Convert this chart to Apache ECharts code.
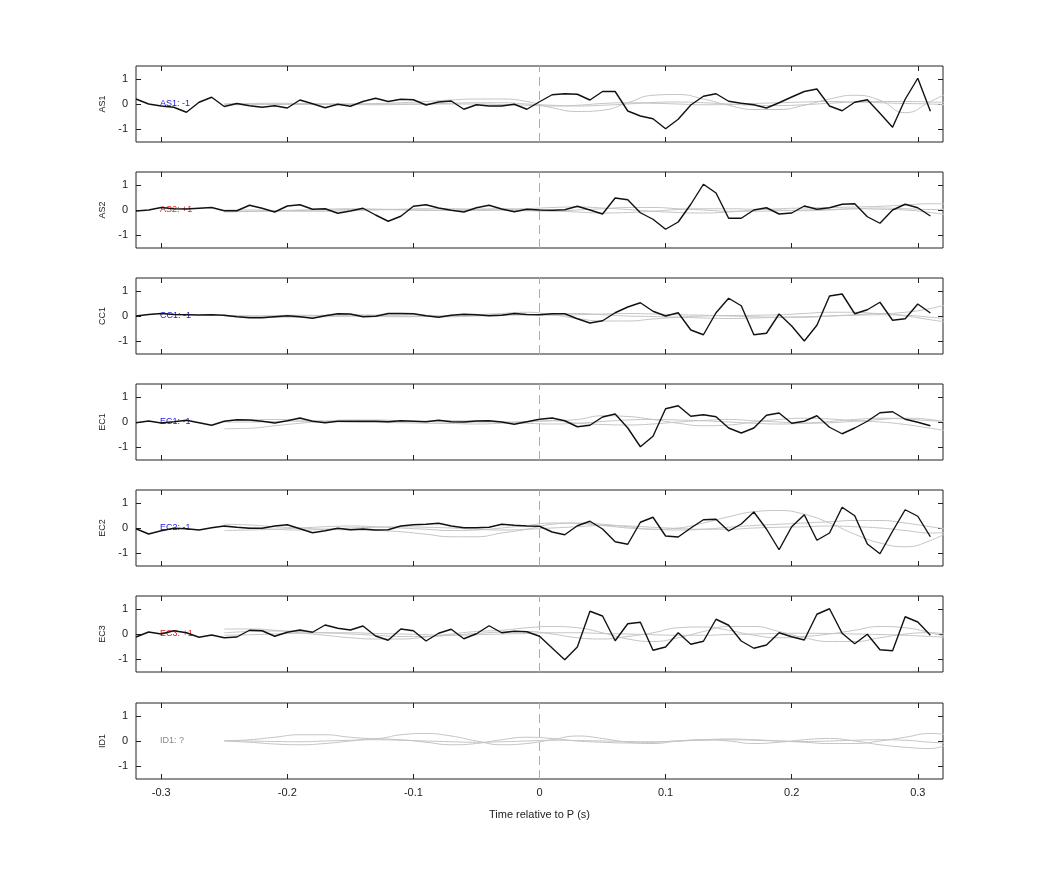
<!DOCTYPE html>
<html>
<head>
<meta charset="utf-8">
<script src="https://cdn.jsdelivr.net/npm/echarts@6/dist/echarts.min.js"></script>
<style>html,body{margin:0;background:#fff}#chart{width:1042px;height:875px}</style>
</head>
<body>
<div id="chart"></div>
<script>
// station names, polarity text and colour of the label
var stations = ["AS1", "AS2", "CC1", "EC1", "EC2", "EC3", "ID1"];
var polarity = ["AS1: -1", "AS2: +1", "CC1: -1", "EC1: -1", "EC2: -1", "EC3: +1", "ID1: ?"];
var polColor = ["#1a1adb", "#e02020", "#1a1adb", "#1a1adb", "#1a1adb", "#e02020", "#888888"];

// black traces, sampled every 0.01 s starting at -0.32 s
var t0 = -0.32, dt = 0.01;
var as1 = [0.2, 0, -0.08, -0.13, -0.33, 0.07, 0.27, -0.1, 0.02, -0.07, -0.13, -0.07, -0.16, 0.16, 0.01, -0.15,
  -0.01, -0.09, 0.1, 0.23, 0.1, 0.19, 0.17, -0.04, 0.08, 0.12, -0.21, -0.03, -0.08, -0.08, -0.01, -0.21,
  0.09, 0.37, 0.41, 0.39, 0.16, 0.5, 0.5, -0.28, -0.48, -0.59, -0.99, -0.61, -0.04, 0.31, 0.41, 0.11,
  0.03, -0.03, -0.16, 0.05, 0.28, 0.5, 0.6, -0.08, -0.27, 0.07, 0.17, -0.37, -0.93, 0.19, 1.03, -0.29];
var as2 = [-0.04, 0, 0.1, 0.05, 0.04, 0.07, 0.1, -0.03, -0.03, 0.19, 0.07, -0.08, 0.16, 0.21, 0.03, 0.05,
  -0.13, -0.04, 0.07, -0.2, -0.45, -0.25, 0.15, 0.21, 0.08, -0.01, -0.08, 0.09, 0.19, 0.04, -0.07, 0.03,
  0, -0.01, 0.01, 0.15, 0, -0.16, 0.48, 0.41, -0.11, -0.37, -0.77, -0.48, 0.23, 1.03, 0.68, -0.33,
  -0.33, 0, 0.09, -0.16, -0.12, 0.16, 0.03, 0.09, 0.23, 0.25, -0.27, -0.53, 0, 0.23, 0.09, -0.24];
var cc1 = [0, 0.06, 0.1, 0.06, 0.05, 0.04, 0.05, 0.03, -0.03, -0.07, -0.07, -0.03, 0.01, -0.03, -0.09, 0.01,
  0.09, 0.08, -0.03, -0.01, 0.1, 0.1, 0.09, 0.01, -0.05, 0.03, 0.07, 0.05, 0.01, 0.03, 0.1, 0.06,
  0.05, 0.09, 0.09, -0.11, -0.28, -0.19, 0.13, 0.36, 0.53, 0.19, 0, 0.13, -0.56, -0.75, 0.13, 0.71,
  0.41, -0.75, -0.69, 0.08, -0.4, -1.0, -0.37, 0.8, 0.88, 0.09, 0.25, 0.55, -0.17, -0.11, 0.48, 0.12];
var ec1 = [-0.03, 0.04, -0.04, 0.01, 0.07, -0.03, -0.13, 0.03, 0.09, 0.08, 0.03, -0.04, 0.05, 0.16, 0.03, -0.03,
  0.03, 0.03, 0.03, 0.03, 0.01, 0.05, 0.03, 0.01, 0.07, 0.01, 0, 0.04, 0.05, 0, -0.09, 0.01,
  0.11, 0.16, 0.05, -0.19, -0.13, 0.2, 0.32, -0.24, -0.99, -0.57, 0.53, 0.65, 0.23, 0.29, 0.21, -0.24,
  -0.44, -0.24, 0.27, 0.36, -0.05, 0.03, 0.25, -0.21, -0.47, -0.24, 0.03, 0.37, 0.41, 0.11, -0.01, -0.15];
var ec2 = [-0.03, -0.24, -0.11, -0.01, -0.03, -0.08, 0.01, 0.08, 0.03, -0.01, -0.01, 0.08, 0.13, -0.03, -0.19, -0.11,
  -0.01, -0.07, -0.04, -0.08, -0.07, 0.08, 0.13, 0.15, 0.19, 0.08, 0.01, 0.01, 0.03, 0.15, 0.11, 0.08,
  0.07, -0.16, -0.27, 0.09, 0.27, -0.04, -0.55, -0.65, 0.23, 0.43, -0.32, -0.36, 0, 0.33, 0.35, -0.12,
  0.16, 0.64, -0.04, -0.87, 0.05, 0.53, -0.49, -0.2, 0.83, 0.49, -0.64, -1.03, -0.13, 0.73, 0.47, -0.35];
var ec3 = [-0.12, 0.08, 0, 0.13, 0.05, -0.13, -0.04, -0.15, -0.12, 0.15, 0.13, -0.09, 0.07, 0.16, 0.07, 0.36,
  0.23, 0.16, 0.32, -0.08, -0.25, 0.2, 0.13, -0.28, 0.03, 0.19, -0.19, 0.01, 0.33, 0.05, 0.11, 0.09,
  -0.09, -0.56, -1.03, -0.52, 0.91, 0.72, -0.27, 0.41, 0.47, -0.65, -0.52, 0.05, -0.41, -0.29, 0.59, 0.35,
  -0.28, -0.57, -0.44, 0.05, -0.11, -0.24, 0.79, 1.01, 0.03, -0.39, -0.01, -0.63, -0.67, 0.69, 0.48, -0.05];
var blackTraces = [as1, as2, cc1, ec1, ec2, ec3, null];

// grey traces, sampled every 0.02 s starting at -0.25 s
var g0 = -0.25, gdt = 0.02;
var greyTraces = [
  [[0, 0, 0, 0, 0, 0, 0.02, 0.05, 0.1, 0.16, 0.2, 0.2, 0.1, -0.15, -0.3, -0.25, 0.05, 0.35, 0.38, 0.2, -0.05, -0.22, -0.22, -0.05, 0.2, 0.35, 0.15, -0.35, 0.1, 0.6],
   [0, 0.02, 0.03, 0.02, 0, -0.02, -0.03, -0.02, 0, 0.03, 0.05, 0.05, 0, -0.05, -0.08, -0.05, 0, 0.06, 0.08, 0.05, 0, -0.05, -0.06, -0.03, 0.03, 0.08, 0.1, 0.1, 0.08, 0.05],
   [-0.03, -0.03, -0.02, -0.02, -0.01, 0, 0, 0, 0, 0, 0, -0.02, -0.05, -0.08, -0.05, 0.02, 0.05, 0.03, 0, -0.03, -0.02, 0.02, 0.05, 0.08, 0.1, 0.08, 0.05, 0.02, 0, -0.05]],
  [[-0.08, -0.06, -0.04, -0.02, 0, 0.02, 0.03, 0.02, 0, -0.02, -0.02, 0, 0.05, 0.1, 0.12, 0.08, 0.02, -0.05, -0.1, -0.12, -0.08, 0, 0.05, 0.08, 0.1, 0.12, 0.15, 0.2, 0.25, 0.25],
   [0, 0, -0.03, -0.05, -0.05, -0.03, 0, 0.03, 0.05, 0.05, 0.03, 0, -0.03, -0.05, 0, 0.05, 0.1, 0.1, 0.05, 0, -0.05, -0.05, -0.03, 0, 0.02, 0.05, 0.03, 0, -0.1, -0.25],
   [-0.05, -0.05, -0.03, 0, 0.03, 0.05, 0.03, 0, -0.02, 0, 0.03, 0.05, 0.03, -0.03, -0.08, -0.12, -0.1, -0.05, 0.02, 0.05, 0.05, 0.03, 0, -0.03, 0, 0.05, 0.08, 0.05, 0.02, 0.05]],
  [[0, -0.03, -0.05, -0.05, -0.03, 0, 0.03, 0.05, 0.03, 0, 0.05, 0.1, 0.15, 0.05, -0.1, -0.2, -0.2, -0.12, -0.05, 0, 0.02, 0.03, 0.05, 0.1, 0.15, 0.15, 0.1, 0.15, 0.3, 0.55],
   [0, 0, 0.02, 0.03, 0.02, 0, -0.02, -0.03, -0.02, 0, 0.02, 0.05, 0.05, 0.03, 0.05, 0.08, 0.1, 0.08, 0.05, 0.03, 0, -0.03, -0.05, -0.05, 0, 0.05, 0.1, 0, -0.15, -0.3],
   [0.02, 0, -0.02, 0, 0.03, 0.05, 0.03, 0, -0.02, -0.03, 0, 0.03, 0.05, 0.08, 0.1, 0.05, 0, -0.02, -0.05, -0.08, -0.1, -0.08, -0.05, -0.03, 0, 0.03, 0.05, 0.03, -0.05, -0.15]],
  [[-0.27, -0.25, -0.15, -0.05, 0.03, 0.08, 0.08, 0.05, 0.02, 0, 0, 0, 0.02, 0.05, 0.1, 0.25, 0.22, 0.1, -0.05, -0.15, -0.12, 0, 0.1, 0.15, 0.12, 0.05, 0, -0.1, -0.25, -0.4],
   [0.05, 0.08, 0.1, 0.08, 0.04, 0, -0.02, 0, 0.03, 0.05, 0.04, 0, -0.05, -0.08, -0.05, 0.02, 0.08, 0.1, 0.08, 0.05, 0, -0.05, -0.08, -0.05, 0.02, 0.1, 0.15, 0.12, 0.05, 0],
   [0, 0, 0.02, 0.03, 0.02, 0, -0.02, -0.03, -0.05, -0.06, -0.08, -0.05, 0, 0.05, -0.05, -0.1, -0.12, -0.08, 0, 0.06, 0.1, 0.05, 0, -0.05, -0.03, 0.03, 0.1, 0.15, 0.1, -0.1]],
  [[0.15, 0.12, 0.05, 0, -0.05, -0.08, -0.1, -0.15, -0.25, -0.35, -0.35, -0.2, -0.05, 0.15, 0.2, 0.15, 0.05, -0.05, 0, 0.2, 0.45, 0.65, 0.7, 0.55, 0.2, -0.25, -0.6, -0.75, -0.5, 0],
   [-0.1, -0.08, -0.05, 0, 0.05, 0.08, 0.05, 0, -0.05, -0.1, -0.08, 0, 0.1, 0.2, 0.18, 0.1, 0, -0.05, -0.08, -0.05, 0.03, 0.1, 0.15, 0.2, 0.25, 0.3, 0.3, 0.2, 0.05, -0.1],
   [0.05, 0, -0.05, -0.08, -0.05, 0, 0.03, 0.05, 0.03, 0, -0.05, -0.08, -0.05, 0, 0.05, 0.1, 0.08, 0.03, -0.02, -0.05, -0.05, 0, 0.03, 0.05, 0.08, 0.05, 0, -0.1, -0.2, -0.15]],
  [[0.2, 0.2, 0.15, 0.05, -0.05, -0.15, -0.2, -0.2, -0.12, 0, 0.1, 0.15, 0.25, 0.3, 0.25, 0.05, -0.2, -0.3, -0.15, 0.1, 0.3, 0.3, 0.1, -0.15, -0.3, -0.3, -0.15, 0, 0.05, -0.1],
   [0.05, 0.1, 0.12, 0.1, 0.05, 0, -0.05, -0.1, -0.1, -0.05, 0.02, 0.08, 0.1, 0, -0.15, -0.2, -0.1, 0.05, 0.25, 0.28, 0.15, -0.05, -0.15, -0.1, 0, 0.15, 0.3, 0.25, 0.05, -0.2],
   [-0.05, -0.03, 0, 0.03, 0.05, 0.05, 0.02, 0, -0.03, -0.05, -0.03, 0, 0.02, 0.05, 0.05, 0.02, 0, -0.03, -0.05, -0.05, -0.02, 0, 0.02, 0.03, 0.02, 0, -0.02, -0.05, -0.1, -0.15]],
  [[0, 0.05, 0.15, 0.25, 0.25, 0.15, 0.1, 0.25, 0.3, 0.2, 0, -0.15, -0.1, 0.05, 0.2, 0.1, -0.05, -0.1, 0, 0.05, 0, -0.1, -0.05, 0.05, 0.1, 0, -0.15, -0.25, -0.3, 0.05],
   [0, -0.05, -0.12, -0.15, -0.1, 0, 0.08, 0.05, -0.05, -0.15, -0.1, 0.05, 0.15, 0.1, 0, -0.05, -0.08, -0.05, 0, 0.05, 0.08, 0.05, 0, -0.05, -0.1, -0.1, 0, 0.15, 0.3, 0.2],
   [0.02, 0, -0.02, -0.03, 0, 0.03, 0.05, 0.03, 0, -0.03, -0.05, -0.03, 0, 0.03, 0.02, 0, -0.02, -0.03, 0, 0.03, 0.05, 0.03, 0, -0.02, 0, 0.03, 0.05, 0.03, -0.05, -0.1]]
];

var xTicks = [-0.3, -0.2, -0.1, 0, 0.1, 0.2, 0.3];
var xTickLabels = ["-0.3", "-0.2", "-0.1", "0", "0.1", "0.2", "0.3"];
var yTicks = [-1, 0, 1];

function toPairs(arr, start, step) {
  return arr.map(function (v, i) { return [+(start + i * step).toFixed(3), v]; });
}

var chart = echarts.init(document.getElementById("chart"));
var font = "Liberation Sans, Arial, sans-serif";
var tops = [66, 172, 278, 384, 490, 596, 703];
var grids = [], xAxes = [], yAxes = [], series = [];

stations.forEach(function (name, k) {
  grids.push({ left: 136, right: 99, top: tops[k], height: 76, show: true, borderColor: "#222", borderWidth: 1, backgroundColor: "#fff" });
  ["bottom", "top"].forEach(function (pos) {
    xAxes.push({
      gridIndex: k, type: "value", position: pos, min: -0.32, max: 0.32,
      axisLine: { show: false, onZero: false },
      axisTick: { inside: true, length: 5, lineStyle: { color: "#222" }, customValues: xTicks },
      axisLabel: {
        show: pos === "bottom" && k === stations.length - 1, customValues: xTicks,
        formatter: function (v) { return xTickLabels[xTicks.indexOf(+v.toFixed(1))]; },
        color: "#222", fontSize: 11, fontFamily: font, margin: 8
      },
      splitLine: { show: false },
      name: pos === "bottom" && k === stations.length - 1 ? "Time relative to P (s)" : "",
      nameLocation: "middle", nameGap: 30, nameTextStyle: { color: "#222", fontSize: 11, fontFamily: font }
    });
  });
  ["left", "right"].forEach(function (pos) {
    yAxes.push({
      gridIndex: k, type: "value", position: pos, min: -1.52, max: 1.52,
      axisLine: { show: false, onZero: false },
      axisTick: { inside: true, length: 5, lineStyle: { color: "#222" }, customValues: yTicks },
      axisLabel: { show: pos === "left", customValues: yTicks, color: "#222", fontSize: 11, fontFamily: font, margin: 8 },
      splitLine: { show: false },
      name: pos === "left" ? name : "", nameLocation: "middle", nameGap: 22, nameRotate: 90,
      nameTextStyle: { color: "#222", fontSize: 9, fontFamily: font }
    });
  });

  greyTraces[k].forEach(function (g) {
    series.push({
      type: "line", xAxisIndex: 2 * k, yAxisIndex: 2 * k, data: toPairs(g, g0, gdt),
      smooth: 0.5, showSymbol: false, silent: true, clip: true,
      lineStyle: { color: "#c4c4c4", width: 1 }
    });
  });

  var black = blackTraces[k];
  series.push({
    type: "line", xAxisIndex: 2 * k, yAxisIndex: 2 * k, z: 5,
    data: black ? toPairs(black, t0, dt) : [],
    showSymbol: false, silent: true, clip: true,
    lineStyle: { color: "#111", width: 1.4 },
    markLine: {
      silent: true, symbol: "none", label: { show: false }, z: 1,
      lineStyle: { color: "#d99", type: [9, 5], width: 1 },
      data: [{ xAxis: 0 }]
    },
    markPoint: {
      symbolSize: 0, silent: true,
      data: [{ coord: [-0.301, 0] }],
      label: { show: true, position: "right", distance: 0, formatter: polarity[k], color: polColor[k], fontSize: 9, fontFamily: font }
    }
  });
});

chart.setOption({
  animation: false,
  backgroundColor: "#fff",
  grid: grids,
  xAxis: xAxes,
  yAxis: yAxes,
  series: series
});
</script>
</body>
</html>
